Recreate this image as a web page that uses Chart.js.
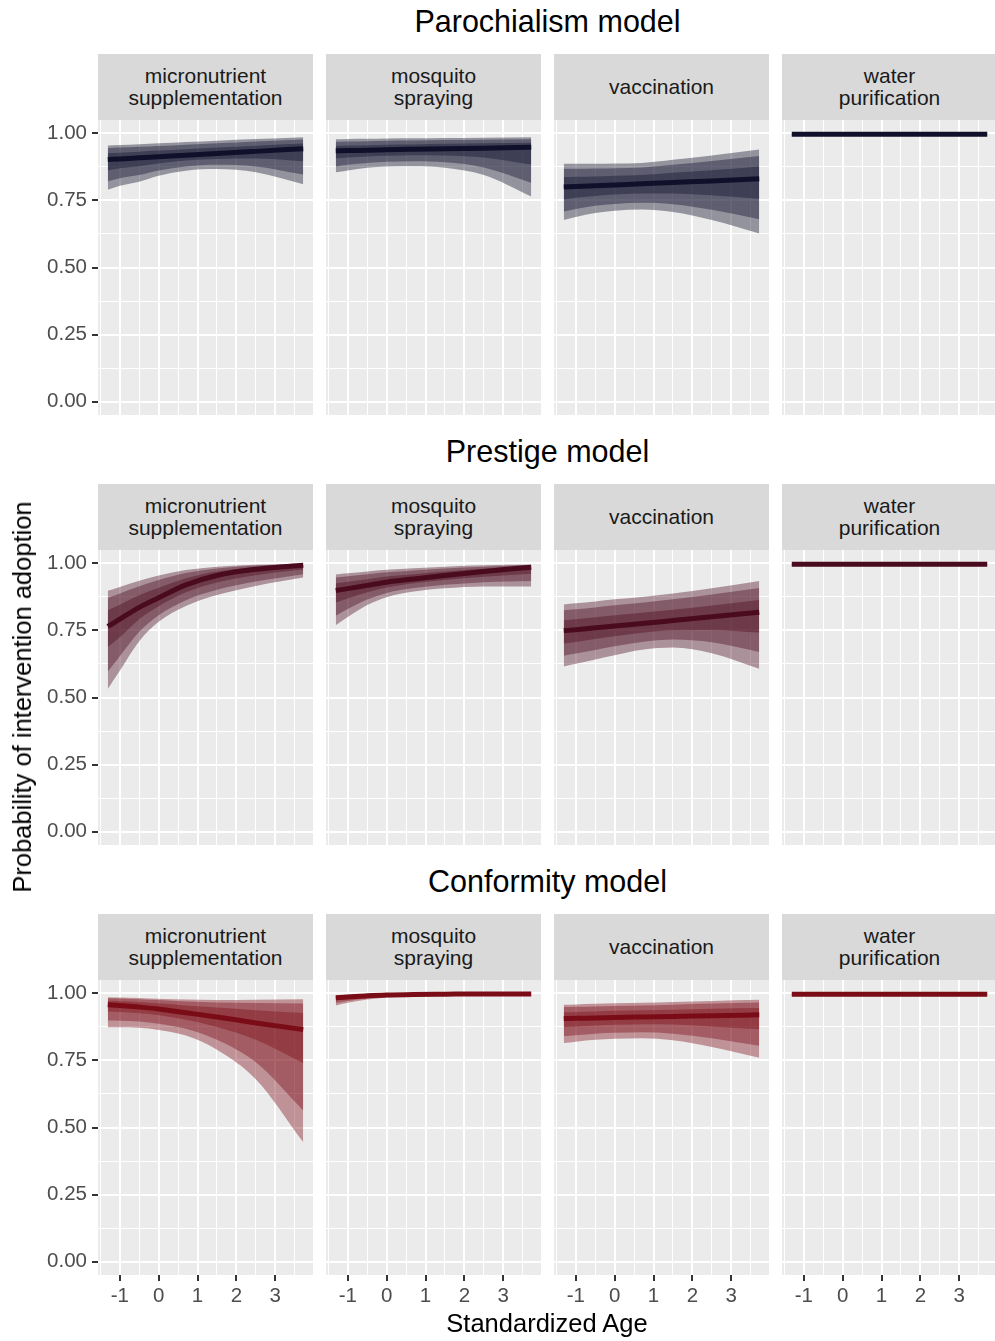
<!DOCTYPE html>
<html>
<head>
<meta charset="utf-8">
<script src="https://cdn.jsdelivr.net/npm/chart.js@4/dist/chart.umd.min.js"></script>
<style>
  html, body { margin: 0; padding: 0; background: #ffffff; }
  #fig { position: relative; width: 995px; height: 1341px; overflow: hidden;
         font-family: "Liberation Sans", Arial, Helvetica, sans-serif; }
  .title { position: absolute; left: 98px; width: 899px; text-align: center;
           font-size: 30.5px; line-height: 32px; color: #000; white-space: nowrap; }
  .strip { position: absolute; background: #D9D9D9; color: #1A1A1A; font-size: 21px;
           line-height: 22.5px; display: flex; flex-direction: column;
           justify-content: center; align-items: center; text-align: center; }
  .axis-title { position: absolute; font-size: 25.5px; color: #000; white-space: nowrap;
                line-height: 28px; }
  canvas { position: absolute; }
</style>
</head>
<body>
<div id="fig"></div>
<script>
// Age grid shared by every panel (standardized units)
const AGE = [-1.31, -1, -0.5, 0, 0.7, 1.5, 2.5, 3.72];

const MODELS = ['Parochialism model', 'Prestige model', 'Conformity model'];
const INTERVENTIONS = [
  ['micronutrient', 'supplementation'],
  ['mosquito', 'spraying'],
  ['vaccination'],
  ['water', 'purification']
];
const X_TICKS = [-1, 0, 1, 2, 3];
const Y_TICKS = [0, 0.25, 0.5, 0.75, 1];

// Rows of each array: micronutrient, mosquito, vaccination, water
const PAROCHIALISM_MEAN = [
  [0.903, 0.905, 0.909, 0.913, 0.919, 0.925, 0.933, 0.943],
  [0.935, 0.936, 0.937, 0.939, 0.941, 0.943, 0.945, 0.948],
  [0.800, 0.802, 0.805, 0.808, 0.812, 0.817, 0.823, 0.831],
  [0.997, 0.997, 0.997, 0.997, 0.997, 0.997, 0.997, 0.997]
];
const PAROCHIALISM_HI95 = [
  [0.955, 0.957, 0.960, 0.963, 0.968, 0.973, 0.979, 0.986],
  [0.978, 0.979, 0.980, 0.981, 0.982, 0.983, 0.984, 0.986],
  [0.887, 0.887, 0.887, 0.888, 0.890, 0.902, 0.918, 0.940],
  [0.9995, 0.9995, 0.9995, 0.9995, 0.9995, 0.9995, 0.9995, 0.9995]
];
const PAROCHIALISM_HI80 = [
  [0.945, 0.947, 0.950, 0.953, 0.958, 0.963, 0.970, 0.977],
  [0.969, 0.970, 0.971, 0.973, 0.974, 0.975, 0.976, 0.978],
  [0.868, 0.868, 0.869, 0.870, 0.873, 0.883, 0.897, 0.916],
  [0.999, 0.999, 0.999, 0.999, 0.999, 0.999, 0.999, 0.999]
];
const PAROCHIALISM_HI50 = [
  [0.926, 0.928, 0.932, 0.936, 0.941, 0.947, 0.954, 0.962],
  [0.954, 0.955, 0.956, 0.958, 0.959, 0.961, 0.963, 0.965],
  [0.837, 0.838, 0.839, 0.842, 0.845, 0.853, 0.863, 0.877],
  [0.998, 0.998, 0.998, 0.998, 0.998, 0.998, 0.998, 0.998]
];
const PAROCHIALISM_LO50 = [
  [0.863, 0.870, 0.878, 0.888, 0.899, 0.905, 0.906, 0.896],
  [0.907, 0.910, 0.914, 0.917, 0.919, 0.918, 0.910, 0.884],
  [0.754, 0.760, 0.767, 0.772, 0.776, 0.776, 0.769, 0.756],
  [0.996, 0.996, 0.996, 0.996, 0.996, 0.996, 0.996, 0.996]
];
const PAROCHIALISM_LO80 = [
  [0.822, 0.833, 0.845, 0.862, 0.877, 0.883, 0.877, 0.847],
  [0.877, 0.883, 0.890, 0.894, 0.896, 0.892, 0.873, 0.816],
  [0.709, 0.718, 0.730, 0.737, 0.741, 0.736, 0.715, 0.680],
  [0.994, 0.994, 0.994, 0.994, 0.994, 0.994, 0.994, 0.994]
];
const PAROCHIALISM_LO95 = [
  [0.790, 0.805, 0.820, 0.842, 0.861, 0.867, 0.855, 0.810],
  [0.855, 0.862, 0.872, 0.877, 0.878, 0.872, 0.845, 0.765],
  [0.677, 0.688, 0.703, 0.712, 0.716, 0.707, 0.677, 0.627],
  [0.991, 0.991, 0.991, 0.991, 0.991, 0.991, 0.991, 0.991]
];

const PRESTIGE_MEAN = [
  [0.765, 0.792, 0.836, 0.872, 0.920, 0.955, 0.978, 0.993],
  [0.899, 0.906, 0.918, 0.930, 0.942, 0.955, 0.970, 0.986],
  [0.749, 0.753, 0.760, 0.767, 0.776, 0.787, 0.801, 0.818],
  [0.997, 0.997, 0.997, 0.997, 0.997, 0.997, 0.997, 0.997]
];
const PRESTIGE_HI95 = [
  [0.898, 0.912, 0.935, 0.955, 0.975, 0.988, 0.995, 0.998],
  [0.959, 0.963, 0.970, 0.976, 0.982, 0.988, 0.993, 0.996],
  [0.847, 0.851, 0.858, 0.866, 0.875, 0.888, 0.907, 0.934],
  [0.9995, 0.9995, 0.9995, 0.9995, 0.9995, 0.9995, 0.9995, 0.9995]
];
const PRESTIGE_HI80 = [
  [0.871, 0.888, 0.915, 0.938, 0.964, 0.981, 0.992, 0.997],
  [0.947, 0.952, 0.960, 0.967, 0.974, 0.981, 0.988, 0.994],
  [0.825, 0.829, 0.836, 0.844, 0.853, 0.866, 0.884, 0.908],
  [0.999, 0.999, 0.999, 0.999, 0.999, 0.999, 0.999, 0.999]
];
const PRESTIGE_HI50 = [
  [0.825, 0.846, 0.881, 0.909, 0.945, 0.970, 0.986, 0.995],
  [0.926, 0.932, 0.941, 0.951, 0.960, 0.970, 0.980, 0.991],
  [0.788, 0.792, 0.799, 0.807, 0.816, 0.827, 0.843, 0.864],
  [0.998, 0.998, 0.998, 0.998, 0.998, 0.998, 0.998, 0.998]
];
const PRESTIGE_LO50 = [
  [0.688, 0.725, 0.792, 0.840, 0.892, 0.929, 0.956, 0.977],
  [0.854, 0.869, 0.892, 0.910, 0.926, 0.938, 0.950, 0.961],
  [0.701, 0.707, 0.718, 0.728, 0.741, 0.751, 0.752, 0.742],
  [0.996, 0.996, 0.996, 0.996, 0.996, 0.996, 0.996, 0.996]
];
const PRESTIGE_LO80 = [
  [0.597, 0.654, 0.745, 0.807, 0.863, 0.902, 0.933, 0.960],
  [0.805, 0.830, 0.865, 0.890, 0.908, 0.920, 0.930, 0.934],
  [0.656, 0.664, 0.677, 0.691, 0.707, 0.716, 0.706, 0.670],
  [0.994, 0.994, 0.994, 0.994, 0.994, 0.994, 0.994, 0.994]
];
const PRESTIGE_LO95 = [
  [0.532, 0.600, 0.710, 0.782, 0.841, 0.882, 0.916, 0.947],
  [0.769, 0.800, 0.845, 0.874, 0.895, 0.907, 0.914, 0.914],
  [0.616, 0.626, 0.642, 0.658, 0.678, 0.686, 0.665, 0.607],
  [0.991, 0.991, 0.991, 0.991, 0.991, 0.991, 0.991, 0.991]
];

const CONFORMITY_MEAN = [
  [0.958, 0.955, 0.949, 0.942, 0.928, 0.912, 0.890, 0.865],
  [0.983, 0.987, 0.991, 0.994, 0.996, 0.997, 0.998, 0.998],
  [0.906, 0.907, 0.908, 0.910, 0.912, 0.914, 0.917, 0.920],
  [0.997, 0.997, 0.997, 0.997, 0.997, 0.997, 0.997, 0.997]
];
const CONFORMITY_HI95 = [
  [0.986, 0.985, 0.983, 0.980, 0.977, 0.975, 0.976, 0.978],
  [0.994, 0.995, 0.997, 0.998, 0.999, 0.999, 0.999, 0.999],
  [0.958, 0.959, 0.961, 0.963, 0.965, 0.968, 0.972, 0.976],
  [0.9995, 0.9995, 0.9995, 0.9995, 0.9995, 0.9995, 0.9995, 0.9995]
];
const CONFORMITY_HI80 = [
  [0.982, 0.981, 0.978, 0.975, 0.970, 0.966, 0.964, 0.962],
  [0.992, 0.993, 0.996, 0.997, 0.998, 0.999, 0.999, 0.999],
  [0.949, 0.950, 0.951, 0.953, 0.955, 0.958, 0.962, 0.966],
  [0.999, 0.999, 0.999, 0.999, 0.999, 0.999, 0.999, 0.999]
];
const CONFORMITY_HI50 = [
  [0.973, 0.972, 0.968, 0.963, 0.955, 0.947, 0.937, 0.927],
  [0.988, 0.991, 0.994, 0.996, 0.997, 0.998, 0.998, 0.998],
  [0.930, 0.931, 0.933, 0.935, 0.937, 0.939, 0.943, 0.946],
  [0.998, 0.998, 0.998, 0.998, 0.998, 0.998, 0.998, 0.998]
];
const CONFORMITY_LO50 = [
  [0.933, 0.931, 0.926, 0.919, 0.902, 0.875, 0.827, 0.740],
  [0.975, 0.981, 0.987, 0.991, 0.994, 0.996, 0.997, 0.997],
  [0.875, 0.877, 0.880, 0.883, 0.885, 0.884, 0.877, 0.866],
  [0.996, 0.996, 0.996, 0.996, 0.996, 0.996, 0.996, 0.996]
];
const CONFORMITY_LO80 = [
  [0.899, 0.898, 0.895, 0.887, 0.868, 0.827, 0.743, 0.563],
  [0.964, 0.972, 0.981, 0.988, 0.992, 0.994, 0.995, 0.995],
  [0.840, 0.844, 0.850, 0.853, 0.855, 0.850, 0.833, 0.805],
  [0.994, 0.994, 0.994, 0.994, 0.994, 0.994, 0.994, 0.994]
];
const CONFORMITY_LO95 = [
  [0.874, 0.874, 0.872, 0.864, 0.843, 0.790, 0.680, 0.445],
  [0.955, 0.965, 0.977, 0.985, 0.990, 0.992, 0.993, 0.993],
  [0.815, 0.820, 0.827, 0.831, 0.833, 0.825, 0.800, 0.760],
  [0.991, 0.991, 0.991, 0.991, 0.991, 0.991, 0.991, 0.991]
];

const MODEL_SERIES = [
  { mean: PAROCHIALISM_MEAN, lo95: PAROCHIALISM_LO95, hi95: PAROCHIALISM_HI95,
    lo80: PAROCHIALISM_LO80, hi80: PAROCHIALISM_HI80, lo50: PAROCHIALISM_LO50, hi50: PAROCHIALISM_HI50,
    line: '#10102B', band: 'rgba(16,16,43,0.40)' },
  { mean: PRESTIGE_MEAN, lo95: PRESTIGE_LO95, hi95: PRESTIGE_HI95,
    lo80: PRESTIGE_LO80, hi80: PRESTIGE_HI80, lo50: PRESTIGE_LO50, hi50: PRESTIGE_HI50,
    line: '#4A0B1F', band: 'rgba(74,11,31,0.40)' },
  { mean: CONFORMITY_MEAN, lo95: CONFORMITY_LO95, hi95: CONFORMITY_HI95,
    lo80: CONFORMITY_LO80, hi80: CONFORMITY_HI80, lo50: CONFORMITY_LO50, hi50: CONFORMITY_HI50,
    line: '#7A0C17', band: 'rgba(122,12,23,0.40)' }
];

// ---- layout ----
const FONT = '"Liberation Sans", Arial, Helvetica, sans-serif';
const PANEL_LEFT = [98, 326, 554, 782];
const PANEL_W = 215;
const ROW_PITCH = 430;
const STRIP_TOP = 54, STRIP_H = 66;
const PLOT_TOP = 120, PLOT_H = 295;
const Y_AXIS_W = 98, X_AXIS_H = 40;
const X_MIN = -1.5615, X_MAX = 3.9715;
const Y_MIN = -0.05, Y_MAX = 1.05;
const X_GRID = [-1.5, -1, -0.5, 0, 0.5, 1, 1.5, 2, 2.5, 3, 3.5];
const Y_GRID = [0, 0.125, 0.25, 0.375, 0.5, 0.625, 0.75, 0.875, 1];

Chart.defaults.font.family = FONT;

const fig = document.getElementById('fig');

function addDiv(cls, css, html) {
  const d = document.createElement('div');
  d.className = cls;
  Object.assign(d.style, css);
  d.innerHTML = html;
  fig.appendChild(d);
  return d;
}

const panelBackground = {
  id: 'panelBackground',
  beforeDraw(chart) {
    const a = chart.chartArea, c = chart.ctx;
    c.save();
    c.fillStyle = '#EBEBEB';
    c.fillRect(a.left, a.top, a.right - a.left, a.bottom - a.top);
    c.restore();
  }
};

const isMajorX = v => X_TICKS.includes(v);
const isMajorY = v => Y_TICKS.some(t => Math.abs(t - v) < 1e-9);

function pts(values) {
  return AGE.map((x, i) => ({ x: x, y: values[i] }));
}

function bandPair(lo, hi, color) {
  return [
    { data: pts(lo), borderWidth: 0, borderColor: 'rgba(0,0,0,0)', fill: false, pointRadius: 0 },
    { data: pts(hi), borderWidth: 0, borderColor: 'rgba(0,0,0,0)', fill: '-1',
      backgroundColor: color, pointRadius: 0 }
  ];
}

// keep the panel edges fixed: no extra room for labels at the ends of an axis
function fixAxis(size) {
  return sc => {
    if (sc.isHorizontal()) sc.height = size; else sc.width = size;
    sc.paddingTop = 0; sc.paddingBottom = 0;
    sc.paddingLeft = 0; sc.paddingRight = 0;
  };
}

MODELS.forEach((model, r) => {
  const rowTop = r * ROW_PITCH;
  addDiv('title', { top: (rowTop + 5) + 'px' }, model);
  const s = MODEL_SERIES[r];

  INTERVENTIONS.forEach((lines, c) => {
    addDiv('strip', {
      left: PANEL_LEFT[c] + 'px', top: (rowTop + STRIP_TOP) + 'px',
      width: PANEL_W + 'px', height: STRIP_H + 'px'
    }, lines.map(t => '<span>' + t + '</span>').join(''));

    const showY = c === 0;
    const showX = r === MODELS.length - 1;
    const cv = document.createElement('canvas');
    const left = showY ? PANEL_LEFT[c] - Y_AXIS_W : PANEL_LEFT[c];
    const w = PANEL_W + (showY ? Y_AXIS_W : 0);
    const h = PLOT_H + (showX ? X_AXIS_H : 0);
    cv.width = w; cv.height = h;
    cv.style.left = left + 'px';
    cv.style.top = (rowTop + PLOT_TOP) + 'px';
    cv.style.width = w + 'px';
    cv.style.height = h + 'px';
    fig.appendChild(cv);

    const datasets = [
      { data: pts(s.mean[c]), borderColor: s.line, borderWidth: 5, fill: false,
        pointRadius: 0, borderCapStyle: 'butt' },
      ...bandPair(s.lo95[c], s.hi95[c], s.band),
      ...bandPair(s.lo80[c], s.hi80[c], s.band),
      ...bandPair(s.lo50[c], s.hi50[c], s.band)
    ];

    new Chart(cv, {
      type: 'line',
      data: { datasets },
      options: {
        responsive: false,
        animation: false,
        devicePixelRatio: 1,
        events: [],
        layout: { padding: 0 },
        plugins: { legend: { display: false }, tooltip: { enabled: false } },
        elements: { point: { radius: 0 }, line: { cubicInterpolationMode: 'monotone' } },
        scales: {
          x: {
            type: 'linear', min: X_MIN, max: X_MAX,
            afterBuildTicks: sc => { sc.ticks = X_GRID.map(v => ({ value: v })); },
            afterFit: fixAxis(showX ? X_AXIS_H : 0),
            border: { display: false },
            grid: {
              color: '#FFFFFF',
              lineWidth: ctx => (ctx.tick && isMajorX(ctx.tick.value)) ? 2 : 1,
              drawTicks: showX,
              tickLength: 6,
              tickWidth: 2,
              tickColor: ctx => (ctx.tick && isMajorX(ctx.tick.value)) ? '#333333' : 'rgba(0,0,0,0)'
            },
            ticks: {
              display: showX, autoSkip: false, maxRotation: 0, padding: 3,
              color: '#4D4D4D', font: { size: 20.5, family: FONT },
              callback: v => isMajorX(v) ? String(v) : ''
            }
          },
          y: {
            type: 'linear', min: Y_MIN, max: Y_MAX,
            afterBuildTicks: sc => { sc.ticks = Y_GRID.map(v => ({ value: v })); },
            afterFit: fixAxis(showY ? Y_AXIS_W : 0),
            border: { display: false },
            grid: {
              color: '#FFFFFF',
              lineWidth: ctx => (ctx.tick && isMajorY(ctx.tick.value)) ? 2 : 1,
              drawTicks: showY,
              tickLength: 6,
              tickWidth: 2,
              tickColor: ctx => (ctx.tick && isMajorY(ctx.tick.value)) ? '#333333' : 'rgba(0,0,0,0)'
            },
            ticks: {
              display: showY, autoSkip: false, padding: 5,
              color: '#4D4D4D', font: { size: 20.5, family: FONT },
              callback: v => isMajorY(v) ? v.toFixed(2) : ''
            }
          }
        }
      },
      plugins: [panelBackground]
    });
  });
});

// shared axis titles
addDiv('axis-title', { left: '547px', top: '1323px', transform: 'translate(-50%,-50%)' },
  'Standardized Age');
addDiv('axis-title', { left: '22px', top: '697px',
  transform: 'translate(-50%,-50%) rotate(-90deg)' }, 'Probability of intervention adoption');
</script>
</body>
</html>
